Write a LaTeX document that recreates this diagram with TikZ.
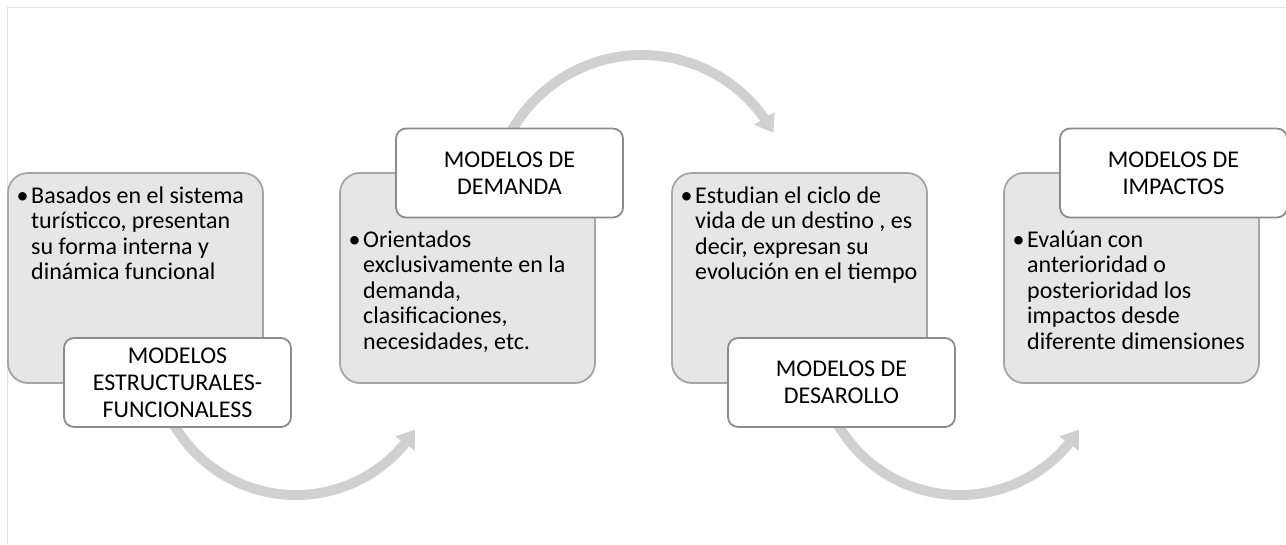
\documentclass[tikz,border=0pt]{standalone}
\usepackage{fontspec}
\setmainfont{Carlito}
\usetikzlibrary{arrows.meta,bending,calc}
\definecolor{boxfill}{HTML}{E6E6E6}
\definecolor{boxline}{HTML}{A5A5A5}
\definecolor{labline}{HTML}{8C8C8C}
\definecolor{arrowgray}{HTML}{D0D0D0}
\definecolor{framegray}{HTML}{E3E3E3}
\begin{document}
\begin{tikzpicture}[x=1pt,y=1pt,
  graybox/.style={draw=boxline, line width=1.8pt, fill=boxfill, rounded corners=20pt,
    minimum width=255pt, minimum height=210pt, inner sep=0pt},
  labelbox/.style={draw=labline, line width=1.8pt, fill=white, rounded corners=10pt,
    minimum width=227pt, minimum height=89pt, inner sep=0pt, align=center,
    font=\fontsize{24}{27}\selectfont},
  bodytext/.style={anchor=base west, inner sep=0pt, font=\fontsize{24}{25.6}\selectfont},
  bulletmark/.style={anchor=base, inner sep=0pt, font=\fontsize{24}{25.6}\selectfont},
  flowarrow/.style={draw=arrowgray, line width=10pt, -{Triangle[width=23pt,length=17pt]}}
]
\useasboundingbox (0,0) rectangle (1286,-544);
% frame
\draw[framegray, line width=1.5pt] (7.5,-544) -- (7.5,-7.5) -- (1286,-7.5);
% arrows
\coordinate (c1) at (296,-354);
\coordinate (c2) at (642,-205);
\coordinate (c3) at (960,-354);
\coordinate (a1) at ($(c1)+(198:141pt)$);
\coordinate (a2) at ($(c2)+(158.5:150pt)$);
\coordinate (a3) at ($(c3)+(198:141pt)$);
\draw[flowarrow] (a1) arc[start angle=198, end angle=327.5, radius=141pt];
\draw[flowarrow] (a2) arc[start angle=158.5, end angle=28.8, radius=150pt];
\draw[flowarrow] (a3) arc[start angle=198, end angle=327.5, radius=141pt];
% gray boxes
\node[graybox] (g1) at (135.5,-278) {};
\node[graybox] (g2) at (467.5,-278) {};
\node[graybox] (g3) at (799.5,-278) {};
\node[graybox] (g4) at (1131.5,-278) {};
% label boxes
\node[labelbox] (l1) at (177.5,-382.5) {MODELOS\\ESTRUCTURALES-\\FUNCIONALESS};
\node[labelbox] (l2) at (509.5,-173) {MODELOS DE\\DEMANDA};
\node[labelbox] (l3) at (841.5,-382.5) {MODELOS DE\\DESAROLLO};
\node[labelbox] (l4) at (1173.5,-173) {MODELOS DE\\IMPACTOS};
% body texts
\node[bulletmark] (p1) at (22.5,-203) {•};
\node[bodytext] (t1) at (31,-203) {\begin{tabular}[t]{@{}l@{}}Basados en el sistema\\turísticco, presentan\\su forma interna y\\dinámica funcional\end{tabular}};
\node[bulletmark] (p2) at (354.5,-247) {•};
\node[bodytext] (t2) at (363,-247) {\begin{tabular}[t]{@{}l@{}}Orientados\\exclusivamente en la\\demanda,\\clasificaciones,\\necesidades, etc.\end{tabular}};
\node[bulletmark] (p3) at (686.5,-203) {•};
\node[bodytext] (t3) at (695,-203) {\begin{tabular}[t]{@{}l@{}}Estudian el ciclo de\\vida de un destino , es\\decir, expresan su\\evolución en el tiempo\end{tabular}};
\node[bulletmark] (p4) at (1018.5,-247) {•};
\node[bodytext] (t4) at (1027,-247) {\begin{tabular}[t]{@{}l@{}}Evalúan con\\anterioridad o\\posterioridad los\\impactos desde\\diferente dimensiones\end{tabular}};
\end{tikzpicture}
\end{document}
